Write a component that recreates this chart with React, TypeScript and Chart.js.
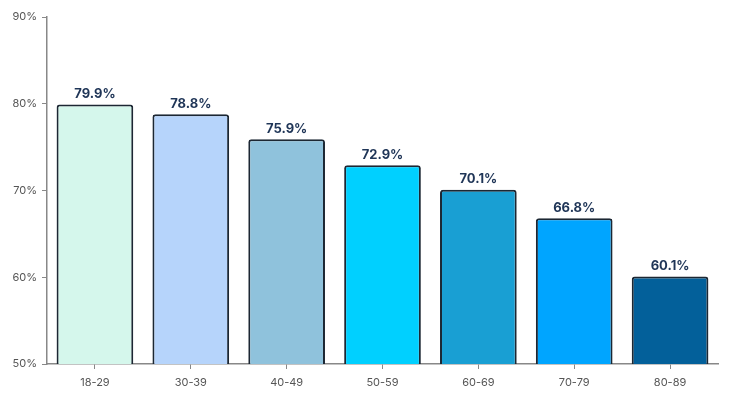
import React, { useEffect, useRef } from "react";
import { Chart, registerables } from "chart.js";

Chart.register(...registerables);

const categories = ["18-29", "30-39", "40-49", "50-59", "60-69", "70-79", "80-89"];
const values = [79.9, 78.8, 75.9, 72.9, 70.1, 66.8, 60.1];
const colors = ["#d5f7ec", "#b6d4fb", "#8fc2dc", "#00d0ff", "#199fd3", "#00a5ff", "#03609a"];
const yTicks = [50, 60, 70, 80, 90];

const labelPlugin = {
  id: "barLabels",
  afterDatasetsDraw(chart: any) {
    const ctx = chart.ctx;
    const meta = chart.getDatasetMeta(0);
    ctx.save();
    ctx.font = "bold 13px Inter, 'Noto Sans', sans-serif";
    ctx.fillStyle = "#1f3557";
    ctx.textAlign = "center";
    ctx.textBaseline = "bottom";
    meta.data.forEach((bar: any, i: number) => {
      ctx.fillText(values[i].toFixed(1) + "%", bar.x, bar.y - 4);
    });
    ctx.restore();
  },
};

export default function App() {
  const ref = useRef<HTMLCanvasElement>(null);
  useEffect(() => {
    if (!ref.current) return;
    const chart = new Chart(ref.current, {
      type: "bar",
      data: {
        labels: categories,
        datasets: [
          {
            data: values,
            backgroundColor: colors,
            borderColor: "#1c2733",
            borderWidth: 2,
            borderRadius: 3,
            borderSkipped: false,
            categoryPercentage: 1,
            barPercentage: 0.8,
          },
        ],
      },
      options: {
        animation: false,
        responsive: true,
        maintainAspectRatio: false,
        layout: { padding: { top: 17, right: 17, left: 0, bottom: 0 } },
        plugins: { legend: { display: false }, tooltip: { enabled: false } },
        scales: {
          x: {
            grid: { display: true, offset: false, drawOnChartArea: false, drawTicks: true, tickLength: 5, color: "#888" },
            border: { display: true, color: "#888", width: 1.5 },
            ticks: { color: "#555", font: { size: 11, family: "Inter, 'Noto Sans', sans-serif" }, padding: 7 },
            afterFit: (s: any) => { s.height = 29; },
          },
          y: {
            min: 50,
            max: 90,
            afterBuildTicks: (s: any) => { s.ticks = yTicks.map((v) => ({ value: v })); },
            grid: { display: true, drawOnChartArea: false, drawTicks: true, tickLength: 5, color: "#888" },
            border: { display: true, color: "#888", width: 1.5 },
            ticks: {
              color: "#555",
              font: { size: 11, family: "Inter, 'Noto Sans', sans-serif" },
              padding: 5,
              callback: (v: any) => v + "%",
            },
            afterFit: (s: any) => { s.width = 47; },
          },
        },
      },
      plugins: [labelPlugin],
    });
    return () => chart.destroy();
  }, []);
  return (
    <div style={{ position: "fixed", left: 0, top: 0, width: 735, height: 393, background: "#fff" }}>
      <canvas ref={ref} />
    </div>
  );
}
